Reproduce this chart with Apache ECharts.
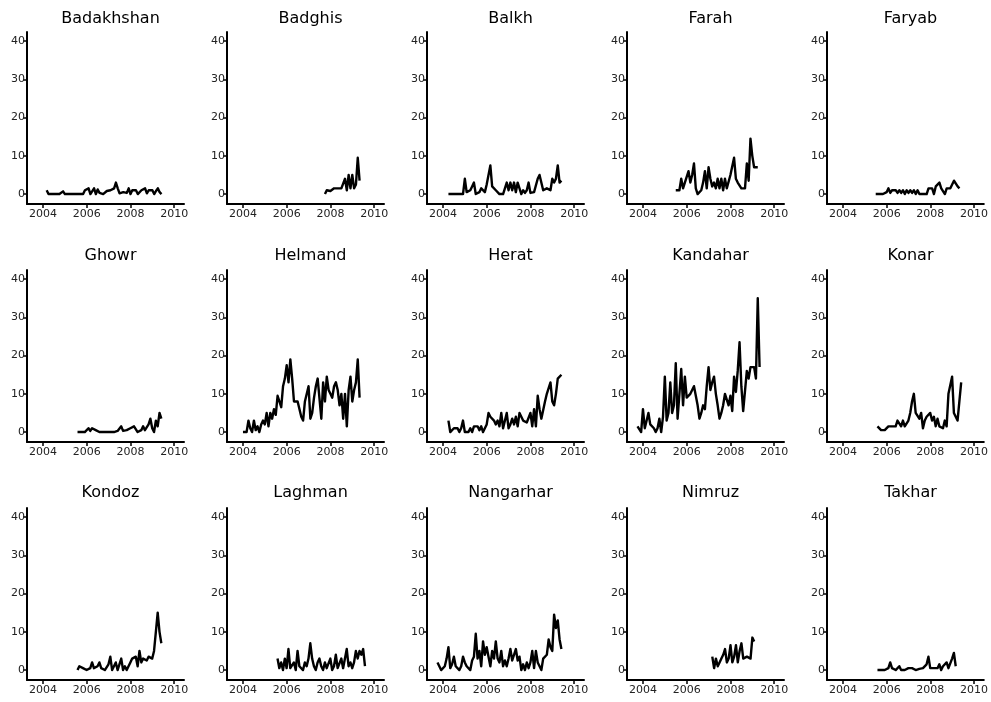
<!DOCTYPE html>
<html>
<head>
<meta charset="utf-8">
<script src="https://cdn.jsdelivr.net/npm/echarts@6/dist/echarts.min.js"></script>
<style>
html,body{margin:0;padding:0;background:#fff;}
#chart{width:991px;height:702px;}
</style>
</head>
<body>
<div id="chart"></div>
<script>
// Province names (panel titles), in panel order
const provinces = ["Badakhshan","Badghis","Balkh","Farah","Faryab","Ghowr","Helmand","Herat","Kandahar","Konar","Kondoz","Laghman","Nangarhar","Nimruz","Takhar"];
// First month of each series (decimal year); values are monthly after that
const startYears = [2004.17,2007.75,2004.25,2005.5,2005.5,2005.58,2004.0,2004.25,2003.75,2005.58,2005.58,2005.58,2003.75,2007.17,2005.58];
// Tick labels
const xTicks = [2004,2006,2008,2010];
const yTicks = [0,10,20,30,40];

// Monthly values per province
const badakhshan = [1,0,0,0,0,0,0,0,0,0.7,0,0,0,0,0,0,0,0,0,0,0,1,1.5,1.5,0,0,1.5,0,1.2,0.3,0.8,0,0.3,0.8,1,1,1,1.5,3,1.5,0.2,0,0.5,0,0.3,1.5,0,1,0.5,1,0,0.5,1,1.5,1.5,0.2,1,0.5,1,0,0.8,1.5,0.5,0];
const badghis = [0,1,1.5,0.8,1.2,1.5,1,1.5,1,1.5,1.5,4,1,5,1.5,5,1.5,2.5,9.5,3.5];
const balkh = [0,0,0,0,0,0,0,0,0,4,0.5,0,1,2,3,0,0,0.5,1.5,1,0.5,2.5,2,7.5,2,1.5,1,0.5,0,0.5,0,1.5,3,1,3,1,3,0.5,3,1.5,0,1,0.3,1,3,0.3,0.5,0.5,1,4,5,4.5,1,1.5,1.5,1.5,1,4,3,4,7.5,3,3.5];
const farah = [1,1,1,4,1.5,3,3.5,6,3,5,8,1.5,0,0.5,1,3,6,1.5,7,4,2,3,1.5,4,1.5,4,1,4,1.5,1.5,5,4.5,9.5,4,3,3,1.5,1.5,1.5,8,3.5,14.5,10,7,7,7];
const faryab = [0,0,0,0,0,0,0.5,1.5,0.3,1,0.5,1,0.3,1,0.3,1,0,1,0.3,1,0.3,1,0,1,0,0,0,0.5,0,1.5,1,1.5,0,2,1.5,3,1.5,1,0,1.5,1,1.5,2.5,3.5,3.5,2,1.5];
const ghowr = [0,0,0,0,0,0.3,1,0.3,1,0.8,0.5,0,0,0,0,0,0,0,0,0,0,0,0.3,0.5,1.5,0.3,0,0.5,0.2,1,0.5,1.5,1,0,0.3,0.5,1.5,0.5,1,2,3.5,1,0,3,1.5,5,3.5];
const helmand = [0,0,0,3,1,0,3,0.5,1.5,0,2,3,2,5,1.5,5,3.5,6,4.5,9.5,9.5,6.5,12,14,17.5,13,19,14,8,8,8,8,4,3,8,8,12,3.5,5,9,12,14,14,3.5,13,8,14.5,11,10,9,12,13,11,7,10,3.5,10,1.5,11,14.5,8,11,13,19,9];
const herat = [3,0,0.5,1,1.5,1,0,1,3,0,0,0,1,0,1.5,1,1.5,0.5,1.5,0,0,2,5,4,3.5,3,2,3,1.5,5,1,1.5,5,1,2,3.5,2,4,1.5,5,5,3,3,2.5,3,5,1.5,6,1.5,9.5,6,3.5,3.5,8,10,10,13,8,7,10,14,14.5,15];
const kandahar = [1.5,1,0,6,1,1.5,5,2,1.5,1,0,1,3.5,0,4,14.5,3,5,13,5,7,18,3.5,10,16.5,7,14.5,9,9.5,10,11,12,12,7,3.5,5,7,6,12,17,11,13,14.5,10,7,3.5,5,7,10,10,7,9.5,5.5,14.5,10.5,16,23.5,12,5.5,5.5,16,14,17,17,17,14,35,17];
const konar = [1.5,1.5,0.5,1,0.5,0.5,1.5,1.5,1.5,1.5,1.5,3,3,1.5,3,1.5,1,3,5,8,10,5,5,3.5,5,1,3,4,3.5,5,3,4,1.5,3.5,1.5,2,1,3,1.5,10,10.5,14.5,5,5,3,8,13];
const kondoz = [0,1,1,0.5,1,0,0,0.5,2,0.5,0,1,2,0.5,0,0,0,1.5,3.5,0,0.5,2,0,1.5,3,0,1,0,0.5,2,3,2.5,3.5,1,5,2,3,3.5,2.5,3.5,3,3,5,10,15,10,7];
const laghman = [3,0.5,2,0,3,0.5,5.5,0.5,1,2,0,5,1,0.5,0,2,1,3,7,3,1,0,2,3,1,0,2,0.5,1,3,0,1,4,0.5,1,3,0.5,1,5.5,1,2,0.5,2,5,3,5,4,5.5,1];
const nangarhar = [2,1,0,0.5,1,3,6,0.5,1.5,3.5,1,0.5,0,1,3.5,2,1,0.5,0,2.5,3.5,9.5,3,5,1,7.5,4,6,3.5,1,5,3,7.5,3,2,5,1,2.5,1,3,5.5,2.5,2,5.5,2.5,3.5,0,1.5,0,2,0.5,2,5,0.5,5,2,2,0,3,2.5,4,8,6,5,14.5,11,13,8,5.5];
const nimruz = [3.5,0.5,3,1,2,3,4,5.5,2,3,6.5,2,3.5,6.5,2,5,7,3,3.5,3.5,3,3,8.5,7.5];
const takhar = [0,0.5,0,0.5,0,0.3,0.5,2,0.5,0.3,0,0.5,1,0,0.5,0,0.3,0.5,0,0.5,0,0,0.5,0.3,0,0.5,0,1.5,3.5,0.5,0,0.5,1,0.5,1.5,0,1,0.5,2,0.5,0,3,4.5,1];

const allValues = [badakhshan,badghis,balkh,farah,faryab,ghowr,helmand,herat,kandahar,konar,kondoz,laghman,nangarhar,nimruz,takhar];

const FONT = "DejaVu Sans";
const grids = [], xAxes = [], yAxes = [], series = [], titles = [];
provinces.forEach((name, i) => {
  const c = i % 5, r = Math.floor(i / 5);
  const left = 27 + 200 * c, top = 32 + 238 * r, w = 157, h = 172;
  grids.push({left: left, top: top, width: w, height: h, containLabel: false});
  titles.push({
    text: name, left: left + w / 2, top: 6 + 237 * r, textAlign: 'center',
    textStyle: {fontFamily: FONT, fontSize: 16, fontWeight: 'normal', color: '#000'}
  });
  xAxes.push({
    type: 'value', gridIndex: i, min: 2003.27, max: 2010.45,
    splitLine: {show: false},
    axisLine: {show: true, onZero: false, lineStyle: {color: '#000', width: 2}},
    axisTick: {show: true, length: 4, customValues: xTicks, lineStyle: {color: '#000', width: 1.5}},
    axisLabel: {customValues: xTicks, margin: 5, fontFamily: FONT, fontSize: 11, color: '#222',
                formatter: v => String(v), showMinLabel: true, showMaxLabel: true}
  });
  yAxes.push({
    type: 'value', gridIndex: i, min: -2.6, max: 42.4,
    splitLine: {show: false},
    axisLine: {show: true, onZero: false, lineStyle: {color: '#000', width: 2}},
    axisTick: {show: true, length: 4, customValues: yTicks, lineStyle: {color: '#000', width: 1.5}},
    axisLabel: {customValues: yTicks, margin: 2, fontFamily: FONT, fontSize: 11, color: '#222',
                formatter: v => String(v)}
  });
  const vals = allValues[i];
  const s = startYears[i];
  series.push({
    type: 'line', xAxisIndex: i, yAxisIndex: i, showSymbol: false, silent: true,
    animation: false,
    lineStyle: {color: '#000', width: 2.4, join: 'round'},
    data: vals.map((v, k) => [s + k / 12, v])
  });
});

const chart = echarts.init(document.getElementById('chart'), null, {renderer: 'canvas'});
chart.setOption({
  animation: false,
  backgroundColor: '#fff',
  title: titles,
  grid: grids,
  xAxis: xAxes,
  yAxis: yAxes,
  series: series
});
</script>
</body>
</html>
